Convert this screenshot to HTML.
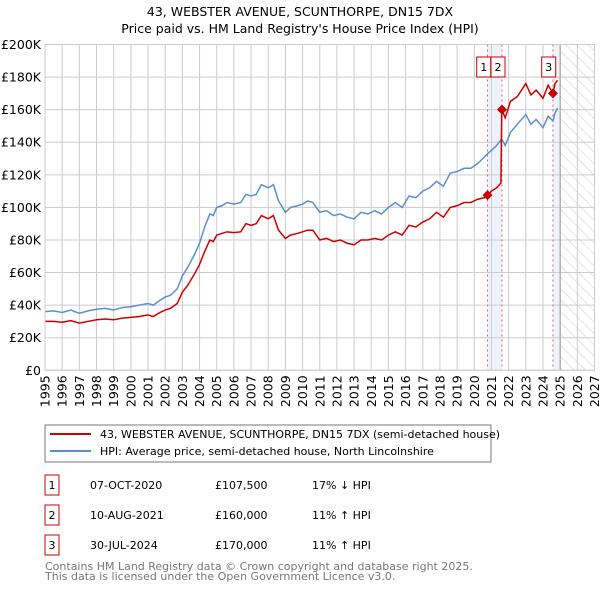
<!DOCTYPE html>
<html><head><meta charset="utf-8"><style>
body{margin:0;background:#fff;font-family:"DejaVu Sans","Liberation Sans",sans-serif;}
svg text{font-family:"DejaVu Sans","Liberation Sans",sans-serif;}
</style></head><body>
<svg id="c" width="600" height="590" xmlns="http://www.w3.org/2000/svg">
<defs><pattern id="hatch" width="8" height="8" patternUnits="userSpaceOnUse" patternTransform="rotate(-45)"><line x1="0" y1="0" x2="0" y2="8" stroke="#ccc" stroke-width="1"/></pattern></defs>
<text x="300" y="16" text-anchor="middle" font-size="12.5">43, WEBSTER AVENUE, SCUNTHORPE, DN15 7DX</text>
<text x="300" y="33" text-anchor="middle" font-size="12.5">Price paid vs. HM Land Registry's House Price Index (HPI)</text>
<g id="plot"></g>
<rect x="45" y="425" width="446" height="37" fill="#fff" stroke="#777"/>
<line x1="50" y1="434" x2="91" y2="434" stroke="#cc0000" stroke-width="2"/>
<text x="100" y="438" font-size="11">43, WEBSTER AVENUE, SCUNTHORPE, DN15 7DX (semi-detached house)</text>
<line x1="50" y1="451" x2="91" y2="451" stroke="#5b8fd1" stroke-width="2"/>
<text x="100" y="455" font-size="11">HPI: Average price, semi-detached house, North Lincolnshire</text>
<g id="table" font-size="11"></g>
<text x="45" y="570" font-size="11" fill="#777">Contains HM Land Registry data © Crown copyright and database right 2025.</text>
<text x="45" y="580" font-size="11" fill="#777">This data is licensed under the Open Government Licence v3.0.</text>
</svg>
<script>
const hpiYears=[1995,1995.5,1996,1996.5,1997,1997.5,1998,1998.5,1999,1999.5,2000,2000.5,2001,2001.3,2001.7,2002,2002.3,2002.7,2003,2003.3,2003.7,2004,2004.3,2004.6,2004.8,2005,2005.3,2005.6,2006,2006.4,2006.7,2007,2007.3,2007.6,2008,2008.3,2008.6,2009,2009.3,2009.7,2010,2010.3,2010.6,2011,2011.4,2011.8,2012.2,2012.6,2013,2013.4,2013.8,2014.2,2014.6,2015,2015.4,2015.8,2016.2,2016.6,2017,2017.4,2017.8,2018.2,2018.6,2019,2019.4,2019.8,2020.2,2020.6,2020.77,2021,2021.3,2021.6,2021.8,2022.1,2022.5,2023,2023.3,2023.6,2024,2024.3,2024.58,2024.7,2024.85];
const hpiValues=[36,36.5,35.5,37,35,36.5,37.5,38,37,38.5,39,40,41,40,43,45,46,50,58,63,71,78,88,96,95,100,101,103,102,103,108,107,108,114,112,114,104,97,100,101,102,104,103,97,98,95,96,94,93,97,96,98,96,100,103,100,107,106,110,112,116,113,121,122,124,124,127,131,133,135,138,142,138,146,151,157,151,154,149,156,153,158,161];
const priceYears=[1995,1995.5,1996,1996.5,1997,1997.5,1998,1998.5,1999,1999.5,2000,2000.5,2001,2001.3,2001.7,2002,2002.3,2002.7,2003,2003.3,2003.7,2004,2004.3,2004.6,2004.8,2005,2005.3,2005.6,2006,2006.4,2006.7,2007,2007.3,2007.6,2008,2008.3,2008.6,2009,2009.3,2009.7,2010,2010.3,2010.6,2011,2011.4,2011.8,2012.2,2012.6,2013,2013.4,2013.8,2014.2,2014.6,2015,2015.4,2015.8,2016.2,2016.6,2017,2017.4,2017.8,2018.2,2018.6,2019,2019.4,2019.8,2020.2,2020.6,2020.77,2021,2021.3,2021.55,2021.6,2021.8,2022.1,2022.5,2023,2023.3,2023.6,2024,2024.3,2024.58,2024.7,2024.85];
const priceValues=[30,30,29.5,30.5,29,30,31,31.5,31,32,32.5,33,34,33,35.5,37,38,41,48,52,59,65,73,80,79,83,84,85,84.5,85,90,89,90,95,93,95,86,81,83,84,85,86,86,80,81,79,80,78,77,80,80,81,80,83,85,83,89,88,91,93,97,94,100,101,103,103,105,106,107.5,110,112,115,160,155,165,168,176,169,172,167,175,170,176,178];
const saleYears=[2020.77,2021.61,2024.58];
const saleValues=[107.5,160,170];
const saleLabels=["1","2","3"];
const saleDates=["07-OCT-2020","10-AUG-2021","30-JUL-2024"];
const salePrices=["£107,500","£160,000","£170,000"];
const saleHpi=["17% ↓ HPI","11% ↑ HPI","11% ↑ HPI"];
const yTicks=[0,20,40,60,80,100,120,140,160,180,200];
const xTicks=[1995,1996,1997,1998,1999,2000,2001,2002,2003,2004,2005,2006,2007,2008,2009,2010,2011,2012,2013,2014,2015,2016,2017,2018,2019,2020,2021,2022,2023,2024,2025,2026,2027];

const NS="http://www.w3.org/2000/svg";
const X0=45,X1=594.5,Y0=370.3,Y1=44.5;
const xs=t=>X0+(t-1995)/(2027-1995)*(X1-X0);
const ys=v=>Y0-v/200*(Y0-Y1);
const g=document.getElementById('plot');
function mk(tag,at,parent){const e=document.createElementNS(NS,tag);for(const k in at)e.setAttribute(k,at[k]);(parent||g).appendChild(e);return e;}
// shading
let r=mk('rect',{x:xs(saleYears[0]),y:Y1,width:xs(saleYears[1])-xs(saleYears[0]),height:Y0-Y1,fill:'#eef3fb'});


r=mk('rect',{x:xs(saleYears[2]),y:Y1,width:xs(2025)-xs(saleYears[2]),height:Y0-Y1,fill:'#eef3fb'});


r=mk('rect',{x:xs(2025),y:Y1,width:X1-xs(2025),height:Y0-Y1,fill:'url(#hatch)'});


// grid
yTicks.forEach(v=>{
 const l=mk('line',{x1:X0,x2:X1,y1:ys(v),y2:ys(v),stroke:'#ccc'});
 
 
 const t=mk('text',{x:X0-4,y:ys(v)+4.5,'text-anchor':'end','font-size':'12.5'});
 t.textContent=v===0?'£0':'£'+v+'K';
 
 
});
xTicks.forEach(y=>{
 const l=mk('line',{x1:xs(y),x2:xs(y),y1:Y1,y2:Y0,stroke:'#ccc'});
 
 
 const t=mk('text',{x:0,y:0,'text-anchor':'end','font-size':'12.5',transform:`translate(${xs(y)+4.5},${Y0+5}) rotate(-90)`});
 t.textContent=y;
 
 
});
let vl=mk('line',{x1:xs(2025),x2:xs(2025),y1:Y1,y2:Y0,stroke:'#999'});


saleYears.forEach((s,i)=>{
 const l=mk('line',{x1:xs(s),x2:xs(s),y1:Y1,y2:Y0,stroke:'#e06060','stroke-dasharray':'2,3'});
 
 
});
// series
let p=mk('polyline',{points:hpiYears.map((t,i)=>xs(t)+','+ys(hpiValues[i])).join(' '),fill:'none',stroke:'#5b8fd1','stroke-width':1.5});


p=mk('polyline',{points:priceYears.map((t,i)=>xs(t)+','+ys(priceValues[i])).join(' '),fill:'none',stroke:'#cc0000','stroke-width':1.5});


// sale markers and label boxes
const boxX=[476.7,491,541.7];
saleYears.forEach((s,i)=>{
 const x=xs(s),y=ys(saleValues[i]);
 const d=mk('polygon',{points:`${x},${y-5} ${x+5},${y} ${x},${y+5} ${x-5},${y}`,fill:'#cc0000'});
 
 
 const b=mk('rect',{x:boxX[i],y:57,width:14,height:20,fill:'#fff',stroke:'#cc0000'});
 
 
 const t=mk('text',{x:boxX[i]+7,y:71,'text-anchor':'middle','font-size':'11'});
 t.textContent=saleLabels[i];
 
 
});
let ax=mk('rect',{x:X0,y:Y1,width:X1-X0,height:Y0-Y1,fill:'none',stroke:'#ccc'});


// table
const tb=document.getElementById('table');
saleLabels.forEach((lab,i)=>{
 const y=475+i*30;
 const b=mk('rect',{x:45,y:y,width:14,height:20,fill:'#fff',stroke:'#cc0000'},tb);
 
 
 const cells=[[52,lab,'middle'],[90,saleDates[i],'start'],[215,salePrices[i],'start'],[312,saleHpi[i],'start']];
 const names=['table-index','table-date','table-price','table-hpi-diff'];
 cells.forEach((c,j)=>{
  const t=mk('text',{x:c[0],y:y+14,'text-anchor':c[2],'font-size':'11'},tb);
  t.textContent=c[1];
  
  
 });
});
</script>
</body></html>
